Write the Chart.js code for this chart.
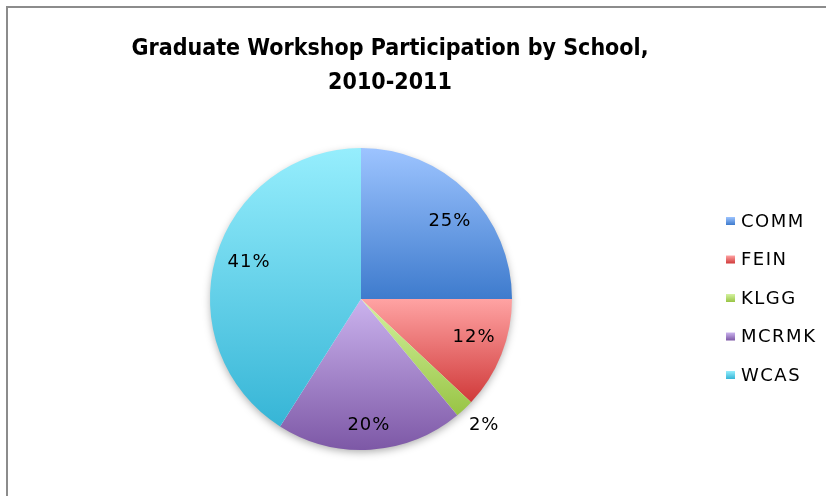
<!DOCTYPE html>
<html lang="en">
<head>
    <meta charset="UTF-8">
    <title>Graduate Workshop Participation by School, 2010-2011</title>
    <script src="https://cdn.jsdelivr.net/npm/chart.js@4"></script>
    <style>
        body {
            margin: 0;
            background: #fff;
            font-family: "DejaVu Sans", sans-serif;
        }
        #frame {
            position: absolute;
            left: 6px;
            top: 6px;
            width: 900px;
            height: 600px;
            border-left: 2px solid #8c8c8c;
            border-top: 2px solid #8c8c8c;
        }
        #title {
            position: absolute;
            left: 0;
            top: 30px;
            width: 780px;
            text-align: center;
            font-family: "DejaVu Sans Condensed", "DejaVu Sans", sans-serif;
            font-weight: bold;
            font-size: 23px;
            line-height: 34px;
            color: #000;
        }
        #pieChart {
            position: absolute;
            left: 0;
            top: 0;
        }
    </style>
</head>
<body>
    <div id="frame"></div>
    <canvas id="pieChart" width="826" height="496"></canvas>
    <div id="title">Graduate Workshop Participation by School,<br>2010-2011</div>

    <script>
        // Chart data
        const schools = ['COMM', 'FEIN', 'KLGG', 'MCRMK', 'WCAS'];
        const shares = [25, 12, 2, 20, 41];
        const shareLabels = ['25%', '12%', '2%', '20%', '41%'];

        // Gradient colours (top -> bottom of each slice)
        const topColors = ['#9dc4ff', '#ffa3a3', '#d4f2a0', '#cbb3ee', '#96eefd'];
        const bottomColors = ['#3e7bcd', '#d03a3a', '#98c444', '#7d58a6', '#36b5d6'];
        // label placement: distance as fraction of radius, angle nudge in degrees
        const labelRadius = [0.78, 0.79, 1.17, 0.835, 0.78];
        const labelNudge = [4, -3, -1, 0, 2];

        function sliceExtent(el) {
            let minY = el.y, maxY = el.y;
            const steps = 60;
            for (let i = 0; i <= steps; i++) {
                const a = el.startAngle + (el.endAngle - el.startAngle) * i / steps;
                const y = el.y + Math.sin(a) * el.outerRadius;
                minY = Math.min(minY, y);
                maxY = Math.max(maxY, y);
            }
            return [minY, maxY];
        }

        const gradientFill = {
            id: 'gradientFill',
            beforeDatasetsDraw(chart) {
                const ctx = chart.ctx;
                const meta = chart.getDatasetMeta(0);
                meta.data.forEach((el, i) => {
                    const [y0, y1] = sliceExtent(el);
                    const g = ctx.createLinearGradient(0, y0, 0, y1);
                    g.addColorStop(0, topColors[i]);
                    g.addColorStop(1, bottomColors[i]);
                    el.options.backgroundColor = g;
                });
                // soft shadow under the pie
                const el = meta.data[0];
                ctx.save();
                ctx.shadowColor = 'rgba(0,0,0,0.35)';
                ctx.shadowBlur = 8;
                ctx.shadowOffsetY = 3;
                ctx.beginPath();
                ctx.arc(el.x, el.y, el.outerRadius - 1, 0, Math.PI * 2);
                ctx.fillStyle = '#ffffff';
                ctx.fill();
                ctx.restore();
            },
            afterDatasetsDraw(chart) {
                const ctx = chart.ctx;
                const meta = chart.getDatasetMeta(0);
                ctx.save();
                ctx.font = '18px "DejaVu Sans"';
                ctx.letterSpacing = '1px';
                ctx.fillStyle = '#000';
                ctx.textAlign = 'center';
                ctx.textBaseline = 'middle';
                meta.data.forEach((el, i) => {
                    const mid = (el.startAngle + el.endAngle) / 2 + labelNudge[i] * Math.PI / 180;
                    const r = el.outerRadius * labelRadius[i];
                    ctx.fillText(shareLabels[i], el.x + Math.cos(mid) * r, el.y + Math.sin(mid) * r);
                });

                // legend
                ctx.textAlign = 'left';
                ctx.font = '18px "DejaVu Sans"';
                ctx.letterSpacing = '1.5px';
                chart.data.labels.forEach((name, i) => {
                    const y = 221 + i * 38.5;
                    const g = ctx.createLinearGradient(0, y - 4, 0, y + 4);
                    g.addColorStop(0, topColors[i]);
                    g.addColorStop(1, bottomColors[i]);
                    ctx.fillStyle = g;
                    ctx.fillRect(726, y - 4, 9, 8);
                    ctx.fillStyle = '#000';
                    ctx.fillText(name, 741, y + 1);
                });
                ctx.restore();
            }
        };

        new Chart(document.getElementById('pieChart'), {
            type: 'pie',
            data: {
                labels: schools,
                datasets: [{
                    data: shares,
                    backgroundColor: topColors,
                    borderWidth: 0
                }]
            },
            options: {
                responsive: false,
                animation: false,
                layout: {
                    padding: { top: 148, bottom: 46, left: 210, right: 314 }
                },
                plugins: {
                    legend: { display: false },
                    title: { display: false },
                    tooltip: { enabled: false }
                }
            },
            plugins: [gradientFill]
        });
    </script>
</body>
</html>
